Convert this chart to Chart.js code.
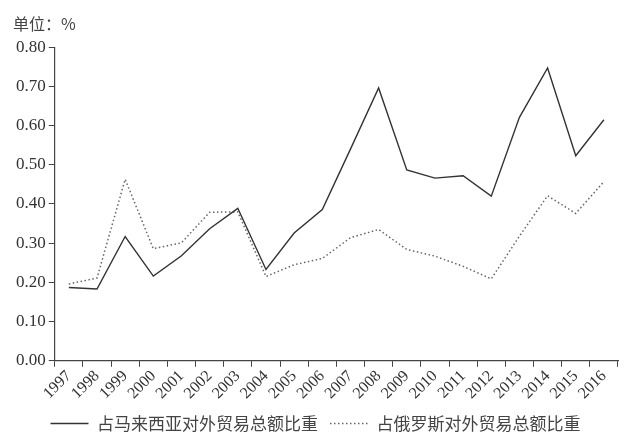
<!DOCTYPE html>
<html>
<head>
<meta charset="utf-8">
<script src="https://cdn.jsdelivr.net/npm/chart.js@4/dist/chart.umd.min.js"></script>
<style>
  body { margin: 0; background: #fff; }
  #wrap { width: 640px; height: 444px; }
</style>
</head>
<body>
<div id="wrap"><canvas id="myChart" width="640" height="444"></canvas></div>
<script>
const years = ['1997','1998','1999','2000','2001','2002','2003','2004','2005','2006',
               '2007','2008','2009','2010','2011','2012','2013','2014','2015','2016'];
const malaysia = [0.187, 0.183, 0.317, 0.216, 0.268, 0.337, 0.389, 0.233, 0.326, 0.386,
                  0.540, 0.696, 0.487, 0.466, 0.472, 0.420, 0.621, 0.747, 0.523, 0.615];
const russia = [0.196, 0.211, 0.463, 0.286, 0.301, 0.379, 0.380, 0.215, 0.245, 0.261,
                0.314, 0.335, 0.284, 0.267, 0.241, 0.209, 0.318, 0.421, 0.376, 0.457];
const yTicks = [0, 0.1, 0.2, 0.3, 0.4, 0.5, 0.6, 0.7, 0.8];

const serif = '"Liberation Serif", "Noto Sans CJK SC", serif';
const cjk = '"Noto Sans CJK SC", "Liberation Serif", sans-serif';
const axisColor = '#444';

const ctx = document.getElementById('myChart');

new Chart(ctx, {
    type: 'line',
    data: {
        labels: years,
        datasets: [{
            label: '占马来西亚对外贸易总额比重',
            data: malaysia,
            borderColor: '#333',
            backgroundColor: '#333',
            borderWidth: 1.4,
            tension: 0,
            pointRadius: 0
        }, {
            label: '占俄罗斯对外贸易总额比重',
            data: russia,
            borderColor: '#666',
            backgroundColor: '#666',
            borderWidth: 1.5,
            borderDash: [1.5, 2.5],
            tension: 0,
            pointRadius: 0
        }]
    },
    options: {
        responsive: false,
        animation: false,
        layout: { padding: { left: 13, right: 22, top: 9, bottom: 2 } },
        plugins: {
            title: {
                display: true,
                text: '单位：%',
                align: 'start',
                color: '#444',
                font: { family: cjk, size: 16, weight: 'normal' },
                padding: { top: 5, bottom: 14 }
            },
            legend: {
                position: 'bottom',
                labels: {
                    usePointStyle: true,
                    pointStyle: 'line',
                    pointStyleWidth: 38,
                    color: '#444',
                    padding: 12,
                    font: { family: cjk, size: 17 },
                    // point style legend ignores the line dash, so copy it from the dataset
                    generateLabels: function(chart) {
                        const items = Chart.defaults.plugins.legend.labels.generateLabels(chart);
                        items.forEach(function(it) {
                            const ds = chart.data.datasets[it.datasetIndex];
                            it.lineDash = ds.borderDash || [];
                            it.strokeStyle = ds.borderColor;
                            it.lineWidth = ds.borderWidth;
                        });
                        return items;
                    }
                }
            },
            tooltip: { enabled: false }
        },
        scales: {
            x: {
                type: 'category',
                offset: true,
                grid: {
                    offset: true,
                    drawOnChartArea: false,
                    drawTicks: true,
                    tickLength: 6,
                    color: axisColor
                },
                border: { display: true, color: axisColor, width: 1.2 },
                ticks: {
                    color: '#333',
                    maxRotation: 45,
                    minRotation: 45,
                    padding: 0,
                    autoSkip: false,
                    font: { family: serif, size: 16 }
                }
            },
            y: {
                min: 0,
                max: 0.8,
                afterBuildTicks: function(axis) {
                    axis.ticks = yTicks.map(function(v) { return { value: v }; });
                },
                grid: {
                    drawOnChartArea: false,
                    drawTicks: true,
                    tickLength: 6,
                    color: axisColor
                },
                border: { display: true, color: axisColor, width: 1.2 },
                ticks: {
                    color: '#333',
                    padding: 3,
                    font: { family: serif, size: 17 },
                    callback: function(v) { return Number(v).toFixed(2); }
                }
            }
        }
    }
});
</script>
</body>
</html>
